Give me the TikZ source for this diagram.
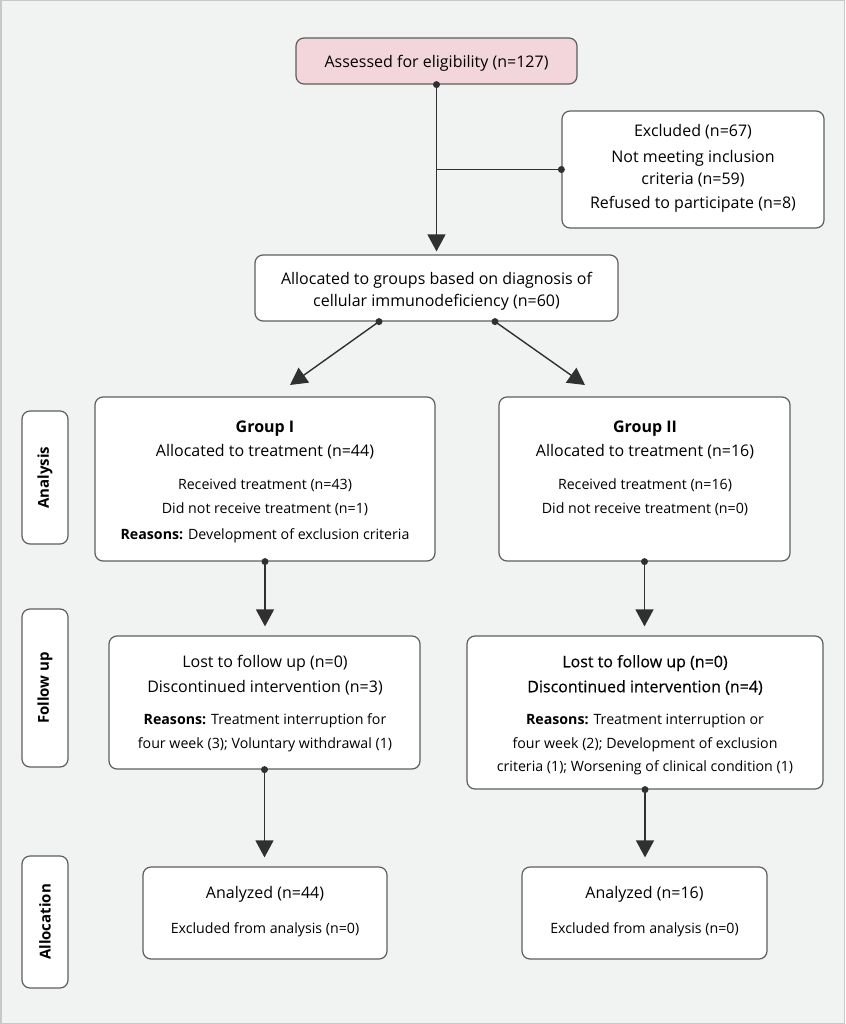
\documentclass[tikz,border=0pt]{standalone}
\usepackage{fontspec}
\setmainfont{Open Sans}
\newfontfamily\medfont{Open Sans}[FakeBold=0.45]
\usetikzlibrary{arrows.meta,calc}
\definecolor{bggray}{HTML}{F1F2F2}
\definecolor{framegray}{HTML}{C8C8C8}
\definecolor{boxline}{HTML}{5E5E5E}
\definecolor{pinkfill}{HTML}{F2D6DB}
\definecolor{linecol}{HTML}{303030}
\begin{document}
\begin{tikzpicture}[x=1pt,y=-1pt,
  box/.style={draw=boxline,line width=1.2pt,rounded corners=8pt,fill=white,inner sep=0pt},
  sidebox/.style={box,rotate=90,font=\fontsize{15}{16}\selectfont\bfseries},
  big/.style={inner sep=0pt,font=\fontsize{16}{18}\selectfont,text height=14pt,text depth=2.5pt},
  bigb/.style={big,font=\fontsize{16}{18}\selectfont\bfseries},
  bigm/.style={big,font=\medfont\fontsize{16}{18}\selectfont},
  small/.style={inner sep=0pt,font=\fontsize{14.2}{16}\selectfont,text height=12.5pt,text depth=2pt},
  conn/.style={draw=linecol,line width=1.4pt,-{Triangle[width=18pt,length=17pt]}},
  plain/.style={draw=linecol,line width=1.4pt},
  dot/.style={fill=linecol}
]
% background
\fill[bggray] (0,0) rectangle (845,1024);
\draw[framegray,line width=1.5pt] (0.75,0.75) rectangle (844.25,1023.25);

% boxes
\node[box,fill=pinkfill,minimum width=281,minimum height=46] (assess) at (436.5,61) {};
\node[box,minimum width=262,minimum height=117] (excl) at (693,169.5) {};
\node[box,minimum width=363,minimum height=66] (alloc) at (436.5,288) {};
\node[box,minimum width=340,minimum height=164] (g1) at (265,479) {};
\node[box,minimum width=291,minimum height=164] (g2) at (644.5,479) {};
\node[box,minimum width=311,minimum height=133] (f1) at (264.5,702.5) {};
\node[box,minimum width=356,minimum height=153] (f2) at (645,712.5) {};
\node[box,minimum width=244,minimum height=92] (a1) at (265,913) {};
\node[box,minimum width=245,minimum height=92] (a2) at (644.5,913) {};

% side labels
\node[sidebox,minimum width=133,minimum height=46] (sAna) at (45,477.5) {Analysis};
\node[sidebox,minimum width=158,minimum height=46] (sFol) at (45,688) {Follow up};
\node[sidebox,minimum width=132,minimum height=46] (sAll) at (45,922) {Allocation};

% texts
\node[big] (tAssess) at (436.5,62) {Assessed for eligibility (n=127)};

\node[big] (tEx1) at (693,131) {Excluded (n=67)};
\node[big] (tEx2) at (693,157) {Not meeting inclusion};
\node[big] (tEx3) at (693,178.5) {criteria (n=59)};
\node[big] (tEx4) at (693,203) {Refused to participate (n=8)};

\node[big] (tAl1) at (436.5,279) {Allocated to groups based on diagnosis of};
\node[big] (tAl2) at (436.5,300.5) {cellular immunodeficiency (n=60)};

\node[bigb] (tG1a) at (265,426.5) {Group I};
\node[big] (tG1b) at (265,451) {Allocated to treatment (n=44)};
\node[small] (tG1c) at (265,484) {Received treatment (n=43)};
\node[small] (tG1d) at (265,508.5) {Did not receive treatment (n=1)};
\node[small] (tG1e) at (265,534) {\textbf{Reasons:} Development of exclusion criteria};

\node[bigb] (tG2a) at (645,426.5) {Group II};
\node[big] (tG2b) at (645,451) {Allocated to treatment (n=16)};
\node[small] (tG2c) at (645,484) {Received treatment (n=16)};
\node[small] (tG2d) at (645,508.5) {Did not receive treatment (n=0)};

\node[big] (tF1a) at (265,661.5) {Lost to follow up (n=0)};
\node[big] (tF1b) at (265,686.5) {Discontinued intervention (n=3)};
\node[small] (tF1c) at (265,719.5) {\textbf{Reasons:} Treatment interruption for};
\node[small] (tF1d) at (265,743) {four week (3); Voluntary withdrawal (1)};

\node[bigm] (tF2a) at (645,661.5) {Lost to follow up (n=0)};
\node[bigm] (tF2b) at (645,686.5) {Discontinued intervention (n=4)};
\node[small] (tF2c) at (645,719.5) {\textbf{Reasons:} Treatment interruption or};
\node[small] (tF2d) at (645,743) {four week (2); Development of exclusion};
\node[small] (tF2e) at (645,766.5) {criteria (1); Worsening of clinical condition (1)};

\node[big] (tA1a) at (265,893) {Analyzed (n=44)};
\node[small] (tA1b) at (265,928) {Excluded from analysis (n=0)};
\node[big] (tA2a) at (644.5,893) {Analyzed (n=16)};
\node[small] (tA2b) at (644.5,928) {Excluded from analysis (n=0)};

% connectors
\coordinate (jn) at (excl.west -| assess.south);
\draw[conn,shorten >=3pt] (assess.south) -- (alloc.north);
\draw[plain] (excl.west) -- (jn);
\fill[dot] (assess.south) circle (3.5pt);
\fill[dot] (excl.west) circle (3.5pt);

\coordinate (dl) at ($(alloc.south)+(-57.5,0)$);
\coordinate (dr) at ($(alloc.south)+(58.5,0)$);
\coordinate (tl) at (290,385);
\coordinate (tr) at (585,385);
\draw[conn] (dl) -- (tl);
\draw[conn] (dr) -- (tr);
\fill[dot] (dl) circle (3.5pt);
\fill[dot] (dr) circle (3.5pt);

\draw[conn,shorten >=9pt] (g1.south) -- (g1.south |- f1.north);
\draw[conn,shorten >=9pt] (g2.south) -- (g2.south |- f2.north);
\fill[dot] (g1.south) circle (3.5pt);
\fill[dot] (g2.south) circle (3.5pt);

\draw[conn,shorten >=9pt] (f1.south) -- (f1.south |- a1.north);
\draw[conn,shorten >=9pt] (f2.south) -- (f2.south |- a2.north);
\fill[dot] (f1.south) circle (3.5pt);
\fill[dot] (f2.south) circle (3.5pt);
\end{tikzpicture}
\end{document}
